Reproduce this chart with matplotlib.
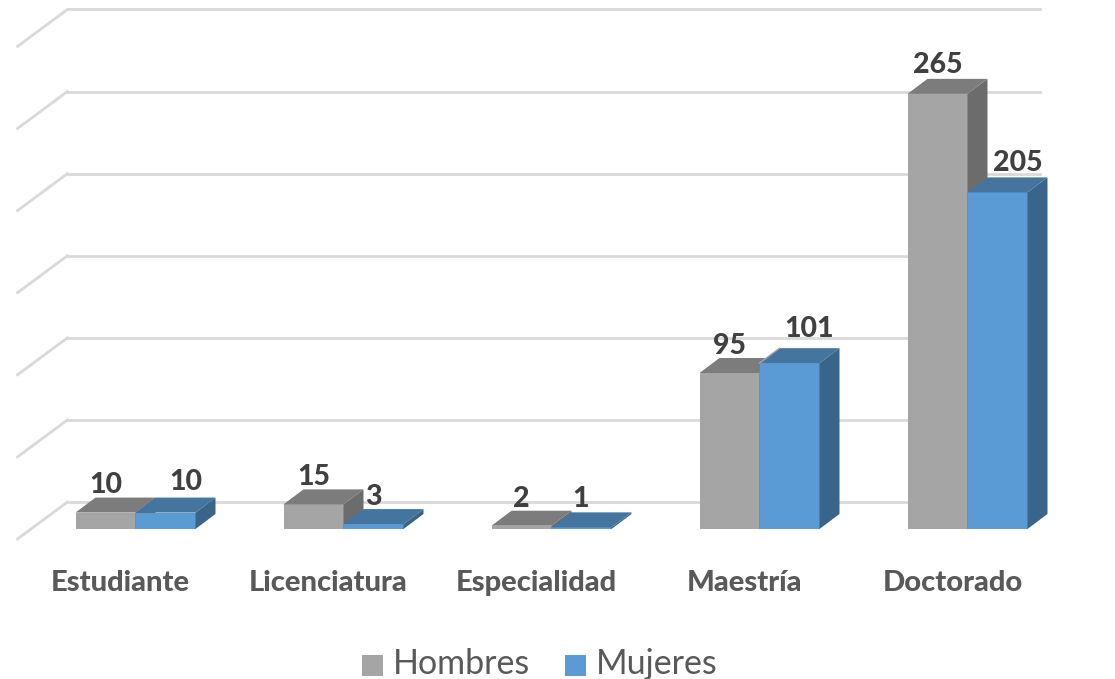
import matplotlib
matplotlib.use('Agg')
import matplotlib.pyplot as plt
from matplotlib.patches import Polygon, Rectangle

categories = ['Estudiante', 'Licenciatura', 'Especialidad', 'Maestría', 'Doctorado']
hombres = [10, 15, 2, 95, 265]
mujeres = [10, 3, 1, 101, 205]
grid_values = [0, 50, 100, 150, 200, 250, 300]

# label nudges in pixels, the original chart places them by hand
lift_h = [13, 12, 12, 12.5, 13.5]
lift_m = [16, 12.5, 13, 19.5, 14.5]
shift_m = [20, 0, -1, 20, 20]

W, H = 1115, 679
PX_X = 208.0    # pixels per category
PX_Y = 1.642    # pixels per unit
bar_w = 60 / PX_X
dx = 20 / PX_X
dy = 15 / PX_Y

plt.rcParams['font.family'] = ['Lato', 'DejaVu Sans']

fig = plt.figure(figsize=(W / 100, H / 100), dpi=100)
ax = fig.add_axes([0, 0, 1, 1])
ax.set_xlim(-135.5 / PX_X, (W - 135.5) / PX_X)
ax.set_ylim((529 - H) / PX_Y, 529 / PX_Y)
ax.axis('off')

# back wall grid and side wall lines
x_left = -118 / PX_X
x_wall = -68 / PX_X
x_right = 904 / PX_X
wall_dy = 37 / PX_Y
for g in grid_values:
    yb = g + 27 / PX_Y
    ax.plot([x_wall, x_right], [yb, yb], color='#d9d9d9', lw=2, zorder=1)
    ax.plot([x_left, x_wall], [yb - wall_dy, yb], color='#d9d9d9', lw=2, zorder=1)


def bar3d(x, v, front, top, side, z):
    ax.add_patch(Rectangle((x, 0), bar_w, v, fc=front, ec='none', zorder=z))
    ax.add_patch(Polygon([(x, v), (x + bar_w, v), (x + bar_w + dx, v + dy), (x + dx, v + dy)],
                         fc=top, ec='none', zorder=z))
    ax.add_patch(Polygon([(x + bar_w, 0), (x + bar_w + dx, dy), (x + bar_w + dx, v + dy), (x + bar_w, v)],
                         fc=side, ec='none', zorder=z))


for i, cat in enumerate(categories):
    bar3d(i - bar_w, hombres[i], '#a5a5a5', '#7c7c7c', '#6c6c6c', 2 + i)
    bar3d(i, mujeres[i], '#5b9bd5', '#44759f', '#3a658b', 2 + i + 0.5)
    ax.text(i - bar_w / 2, hombres[i] + dy + lift_h[i] / PX_Y, str(hombres[i]), ha='center', va='center',
            fontsize=20.5, fontweight='black', color='#404040', zorder=20)
    ax.text(i + bar_w / 2 + shift_m[i] / PX_X, mujeres[i] + dy + lift_m[i] / PX_Y, str(mujeres[i]),
            ha='center', va='center', fontsize=20.5, fontweight='black', color='#404040', zorder=20)
    ax.text(i - 15 / PX_X, -54 / PX_Y, cat, ha='center', va='center',
            fontsize=21, fontweight='black', color='#595959')

# grey edge showing through the Maestría top face
ax.plot([3, 3 + dx], [mujeres[3], mujeres[3] + dy], color='#a5a5a5', lw=1, zorder=10)

# legend
leg_y = -136 / PX_Y
leg_h = 21 / PX_Y
base_y = -145 / PX_Y
ax.add_patch(Rectangle((226 / PX_X, leg_y - leg_h / 2), 21 / PX_X, leg_h, fc='#a5a5a5', ec='none'))
ax.text(257 / PX_X, base_y, 'Hombres', ha='left', va='baseline', fontsize=24.5, color='#595959')
ax.add_patch(Rectangle((429 / PX_X, leg_y - leg_h / 2), 21 / PX_X, leg_h, fc='#5b9bd5', ec='none'))
ax.text(460 / PX_X, base_y, 'Mujeres', ha='left', va='baseline', fontsize=24.5, color='#595959')

fig.savefig('out.png', dpi=100)
